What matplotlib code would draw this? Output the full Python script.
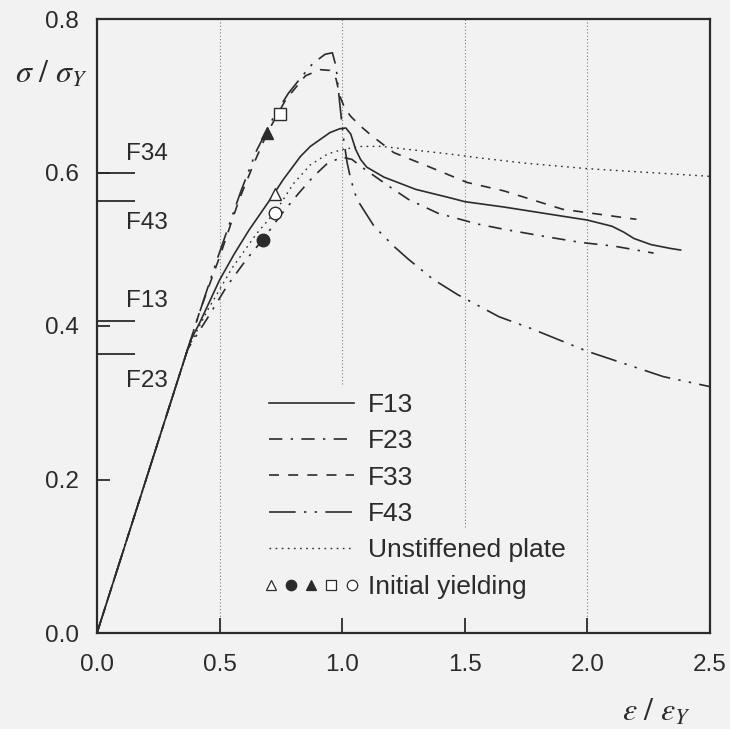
import matplotlib
matplotlib.use('Agg')
import matplotlib.pyplot as plt
from matplotlib.lines import Line2D
from matplotlib.legend_handler import HandlerTuple

# ---- data ----
f13_x = [0, 0.38, 0.42, 0.50, 0.56, 0.62, 0.70, 0.76, 0.83, 0.87, 0.91, 0.95, 0.99, 1.015, 1.035,
         1.055, 1.075, 1.10, 1.17, 1.30, 1.44, 1.50, 1.66, 1.80, 2.00, 2.10, 2.15, 2.19, 2.26, 2.34, 2.38]
f13_y = [0, 0.38, 0.405, 0.46, 0.494, 0.525, 0.562, 0.591, 0.621, 0.634, 0.643, 0.652, 0.657, 0.658, 0.650,
         0.630, 0.617, 0.607, 0.594, 0.578, 0.567, 0.562, 0.555, 0.548, 0.538, 0.530, 0.522, 0.514, 0.506, 0.501, 0.499]

f23_x = [0, 0.37, 0.45, 0.53, 0.61, 0.68, 0.75, 0.82, 0.88, 0.94, 1.0, 1.04, 1.08, 1.12, 1.20, 1.27,
         1.39, 1.55, 1.66, 1.82, 1.97, 2.11, 2.27]
f23_y = [0, 0.37, 0.41, 0.452, 0.487, 0.514, 0.545, 0.572, 0.594, 0.612, 0.620, 0.617, 0.607, 0.598, 0.580, 0.565,
         0.547, 0.533, 0.526, 0.517, 0.509, 0.504, 0.495]

f33_x = [0, 0.42, 0.50, 0.58, 0.64, 0.695, 0.77, 0.85, 0.91, 0.95, 0.975, 0.99, 1.01, 1.035, 1.08, 1.12,
         1.21, 1.35, 1.51, 1.66, 1.90, 2.20]
f33_y = [0, 0.42, 0.49, 0.565, 0.612, 0.652, 0.695, 0.726, 0.734, 0.733, 0.722, 0.70, 0.684, 0.673, 0.659, 0.648,
         0.626, 0.608, 0.587, 0.576, 0.552, 0.539]

f43_x = [0, 0.40, 0.49, 0.585, 0.65, 0.72, 0.78, 0.83, 0.88, 0.93, 0.96, 0.975, 0.99, 1.005, 1.02, 1.035,
         1.06, 1.13, 1.21, 1.27, 1.37, 1.47, 1.64, 1.76, 2.0, 2.31, 2.5]
f43_y = [0, 0.40, 0.487, 0.574, 0.628, 0.672, 0.703, 0.723, 0.742, 0.754, 0.756, 0.738, 0.69, 0.645, 0.613, 0.591,
         0.565, 0.530, 0.504, 0.487, 0.461, 0.441, 0.412, 0.398, 0.367, 0.334, 0.321]

unst_x = [0, 0.37, 0.45, 0.55, 0.65, 0.73, 0.80, 0.87, 0.94, 1.0, 1.08, 1.16, 1.30, 1.44, 1.56, 1.75, 2.0, 2.25, 2.5]
unst_y = [0, 0.37, 0.42, 0.475, 0.52, 0.55, 0.585, 0.61, 0.624, 0.63, 0.634, 0.634, 0.629, 0.624, 0.619, 0.612,
          0.605, 0.600, 0.595]

# initial yielding points: F13, F23, F33, F43, unstiffened
yield_x = [0.727, 0.678, 0.695, 0.747, 0.727]
yield_y = [0.572, 0.512, 0.652, 0.676, 0.547]

# levels marked on the left axis
level_names = ['F34', 'F43', 'F13', 'F23']
level_y = [0.600, 0.5625, 0.407, 0.363]
level_text_y = [0.624, 0.534, 0.433, 0.328]

xticks = [0.0, 0.5, 1.0, 1.5, 2.0, 2.5]
yticks = [0.0, 0.2, 0.4, 0.6, 0.8]

# ---- style ----
plt.rcParams['font.family'] = ['Liberation Sans', 'DejaVu Sans']
plt.rcParams['mathtext.fontset'] = 'stix'
ink = '#2b2b2b'
bg = '#f2f2f2'

fig = plt.figure(figsize=(7.3, 7.29), dpi=100, facecolor=bg)
ax = fig.add_axes([97/730, 96/729, 613/730, 614/729], facecolor=bg)

# dotted grid lines (partly hidden behind the legend in the original)
grid_x = [0.5, 1.0, 1.5, 2.0]
grid_lo = [0.0, 0.324, 0.138, 0.0]
for gx, glo in zip(grid_x, grid_lo):
    ax.vlines(gx, glo, 0.8, colors='#8a7a7a', linestyles=(0, (1.0, 2.0)), linewidth=0.8, zorder=1)

lw = 1.2
l13, = ax.plot(f13_x, f13_y, color=ink, lw=lw, ls='-')
l23, = ax.plot(f23_x, f23_y, color=ink, lw=lw, ls=(0, (8, 5, 1.4, 5)))
l33, = ax.plot(f33_x, f33_y, color=ink, lw=lw, ls=(0, (6, 5.5)))
l43, = ax.plot(f43_x, f43_y, color=ink, lw=lw, ls=(0, (16, 5, 1.4, 5, 1.4, 5)))
lun, = ax.plot(unst_x, unst_y, color=ink, lw=1.0, ls=(0, (1.2, 3.2)))

mk = ['^', 'o', '^', 's', 'o']
fill = [False, True, True, False, False]
for i in range(len(yield_x)):
    ax.plot(yield_x[i], yield_y[i], marker=mk[i], ms=9, ls='none', mec=ink, mew=1.0,
            mfc=ink if fill[i] else 'white', zorder=5)

# level marks on the left
for name, ly, ty in zip(level_names, level_y, level_text_y):
    ax.hlines(ly, 0, 0.155, colors=ink, linewidth=1.3)
    ax.text(0.118, ty, name, fontsize=17.5, color=ink, ha='left', va='center')

ax.set_xlim(0, 2.5)
ax.set_ylim(0, 0.8)
ax.set_xticks(xticks)
ax.set_yticks(yticks)
ax.set_xticklabels(['%.1f' % v for v in xticks])
ax.set_yticklabels(['%.1f' % v for v in yticks])
ax.tick_params(axis='x', direction='in', length=11, width=1.3, color=ink, labelsize=17.5, pad=15, labelcolor=ink)
ax.tick_params(axis='y', direction='in', length=9, width=1.3, color=ink, labelsize=17.5, pad=13, labelcolor=ink)
for s in ax.spines.values():
    s.set_linewidth(1.6)
    s.set_color(ink)

ax.text(-0.075, 0.91, r'$\sigma\ /\ \sigma_Y$', transform=ax.transAxes, fontsize=23, color=ink,
        ha='center', va='center')
ax.text(0.912, -0.13, r'$\varepsilon\ /\ \varepsilon_Y$', transform=ax.transAxes, fontsize=23, color=ink,
        ha='center', va='center')

# legend
def mh(m, f):
    return Line2D([], [], marker=m, ms=7.5, ls='none', mec=ink, mew=0.9, mfc=ink if f else 'white')

yield_handles = tuple(mh(m, f) for m, f in zip(mk, fill))
handles = [l13, l23, l33, l43, lun, yield_handles]
labels = ['F13', 'F23', 'F33', 'F43', 'Unstiffened plate', 'Initial yielding']
leg = ax.legend(handles, labels, loc='upper left', bbox_to_anchor=(0.268, 0.404),
                fontsize=19, frameon=False,
                handlelength=3.2, handletextpad=0.55, labelspacing=0.47, borderpad=0.3,
                borderaxespad=0, handler_map={tuple: HandlerTuple(ndivide=None, pad=0.6)})
for t in leg.get_texts():
    t.set_color(ink)
leg.set_zorder(6)

fig.savefig('out.png', dpi=100, facecolor=bg)
